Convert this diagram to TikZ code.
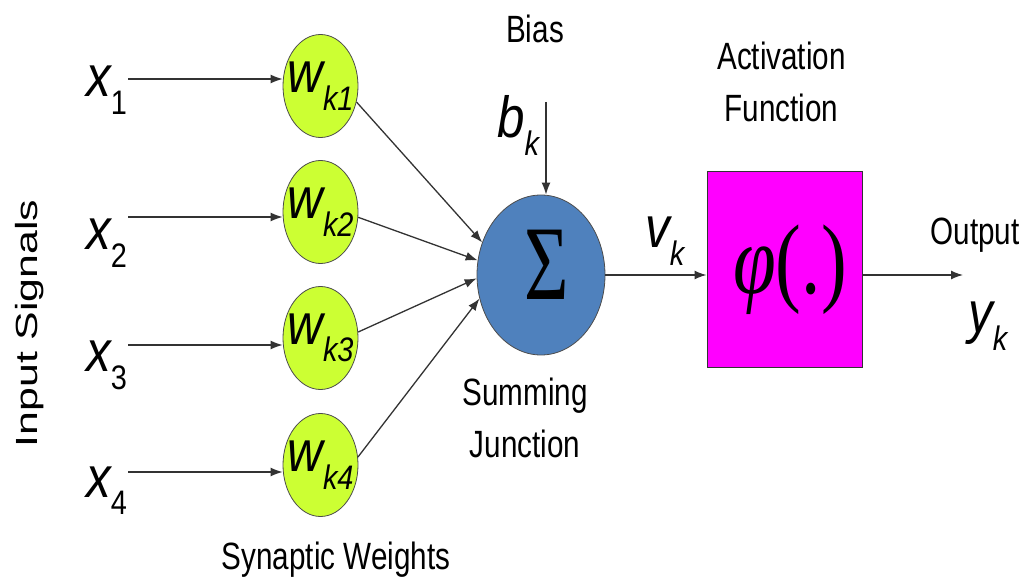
\documentclass[tikz,border=0pt]{standalone}
\usepackage{fontspec}
\setmainfont{Liberation Sans}
\newfontfamily\serifgr{Liberation Serif}
\usetikzlibrary{shapes.geometric,arrows.meta}
\definecolor{wgreen}{RGB}{204,255,51}
\definecolor{sblue}{RGB}{79,129,189}
\definecolor{pmag}{RGB}{255,0,255}
\newcommand{\lbltext}[1]{\scalebox{0.78}[1]{\fontsize{38}{52}\selectfont\begin{tabular}[t]{@{}c@{}}#1\end{tabular}}}
\newcommand{\msym}[2]{\scalebox{0.85}[1]{\fontsize{58}{60}\selectfont\itshape #1\raisebox{-0.3em}{\fontsize{34}{34}\selectfont #2}}}
\begin{document}
\begin{tikzpicture}[x=1pt,y=-1pt,
  arr/.style={draw=black!80, line width=1.3pt, -{Latex[length=12pt,width=9pt]}},
  wnode/.style={ellipse, draw=black!70, line width=0.8pt, fill=wgreen, minimum width=75pt, minimum height=103pt, inner sep=0pt},
  txt/.style={inner sep=0pt, anchor=base}]
\useasboundingbox (0,0) rectangle (1029,577);

% weights
\node[wnode] (w1) at (320.5,86) {\makebox[0pt]{\msym{w}{k1}}};
\node[wnode] (w2) at (320.5,212) {\makebox[0pt]{\msym{w}{k2}}};
\node[wnode] (w3) at (320.5,338) {\makebox[0pt]{\msym{w}{k3}}};
\node[wnode] (w4) at (320.5,465) {\makebox[0pt]{\msym{w}{k4}}};

% inputs
\node[txt, anchor=base west] (x1) at (86,97) {\msym{x}{\upshape 1}};
\node[txt, anchor=base west] (x2) at (86,250) {\msym{x}{\upshape 2}};
\node[txt, anchor=base west] (x3) at (86,372) {\msym{x}{\upshape 3}};
\node[txt, anchor=base west] (x4) at (86,497) {\msym{x}{\upshape 4}};
\coordinate (a1) at (128,79);
\coordinate (a2) at (128,217);
\coordinate (a3) at (128,345);
\coordinate (a4) at (128,472);
\draw[arr] (a1) -- (a1 -| w1.west);
\draw[arr] (a2) -- (a2 -| w2.west);
\draw[arr] (a3) -- (a3 -| w3.west);
\draw[arr] (a4) -- (a4 -| w4.west);

% summing junction
\node[ellipse, draw=black!70, line width=0.8pt, fill=sblue, minimum width=128pt, minimum height=160pt, inner sep=0pt] (sum) at (541,275)
  {\raisebox{20pt}{\makebox[0pt]{\hspace{12pt}\scalebox{0.72}[1]{\fontsize{106}{106}\selectfont\serifgr Σ}}}};
\draw[arr] (w1.-24) -- (sum.151);
\draw[arr] (w2.-8) -- (sum.167);
\draw[arr] (w3.9) -- (sum.183);
\draw[arr] (w4.12) -- (sum.201);

% bias
\node[txt] (bias) at (535,43) {\lbltext{Bias}};
\node[txt, anchor=base west] (bk) at (497,138) {\msym{b}{k}};
\coordinate (btop) at (546,102);
\draw[arr] (btop) -- (btop |- sum.north);

% activation
\node[draw=black!80, line width=1pt, fill=pmag, minimum width=155pt, minimum height=196pt, inner sep=0pt] (box) at (784.5,270)
  {\hspace{11pt}\scalebox{0.78}[1]{\fontsize{99}{99}\selectfont\serifgr{\itshape φ}(.)}};
\node[txt] (act) at (781.5,70) {\lbltext{Activation\\Function}};
\node[txt, anchor=base west] (vk) at (645,248) {\msym{v}{k}};
\draw[arr] (sum.east) -- (sum.east -| box.west);

% output
\coordinate (yout) at (963,275);
\draw[arr] (box.east |- yout) -- (yout);
\node[txt] (outl) at (975,245) {\lbltext{Output}};
\node[txt, anchor=base west] (yk) at (968,333) {\msym{y}{k}};

% labels
\node[txt] (sumj) at (525,406) {\lbltext{Summing\\Junction}};
\node[txt] (syn) at (336,569) {\lbltext{Synaptic Weights}};
\node[rotate=90, anchor=base, inner sep=0pt] (insig) at (37,323.5) {\scalebox{1.26}[0.9]{\fontsize{34}{34}\selectfont Input Signals}};
\end{tikzpicture}
\end{document}
